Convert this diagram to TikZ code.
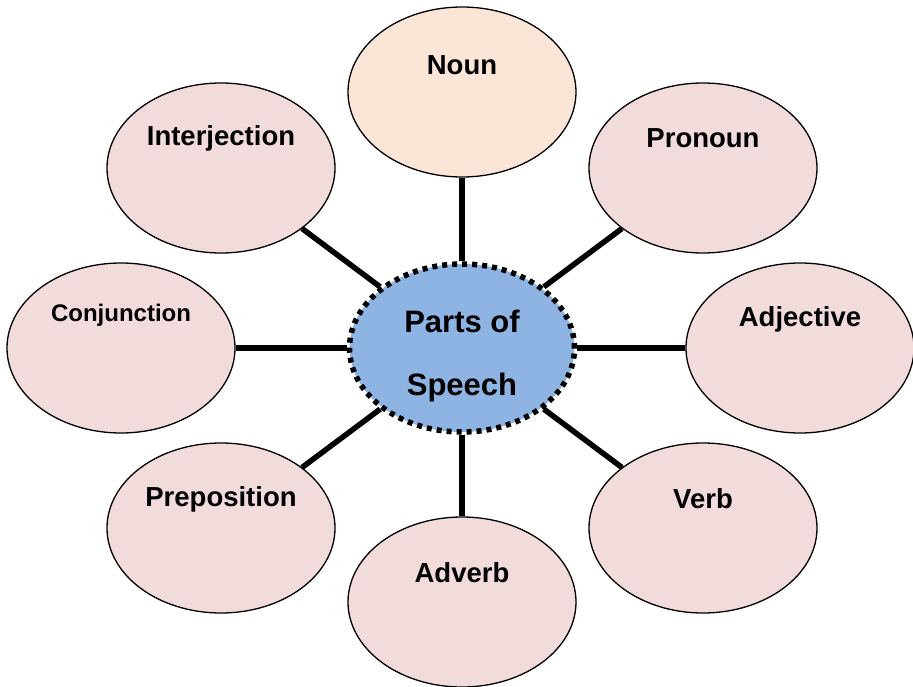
\documentclass[tikz,border=0pt]{standalone}
\usepackage{fontspec}
\setmainfont{Liberation Sans}
\usetikzlibrary{shapes.geometric}
\definecolor{nounfill}{RGB}{251,229,214}
\definecolor{partfill}{RGB}{242,220,219}
\definecolor{hubfill}{RGB}{141,180,226}
\tikzset{
  part/.style={ellipse, draw=black, line width=1.3pt, fill=partfill,
    minimum width=228pt, minimum height=170pt, inner sep=0pt},
  lbl/.style={font=\fontsize{27.5}{30}\selectfont\bfseries, text=black},
  smalllbl/.style={font=\fontsize{24}{27}\selectfont\bfseries, text=black},
  hub/.style={ellipse, draw=black, line width=5.5pt, dash pattern=on 5pt off 5pt,
    fill=hubfill, minimum width=225pt, minimum height=168pt, inner sep=0pt},
  link/.style={line width=5.5pt, black},
}
\begin{document}
\begin{tikzpicture}[x=1pt,y=-1pt]
\useasboundingbox (0,0) rectangle (913,687);
\node[part, fill=nounfill, label={[lbl, yshift=27pt]center:Noun}] (noun) at (462,92) {};
\node[part, label={[lbl, yshift=30pt]center:Pronoun}] (pronoun) at (703,168) {};
\node[part, label={[lbl, yshift=29pt]center:Adjective}] (adjective) at (800,348) {};
\node[part, label={[lbl, yshift=29pt]center:Verb}] (verb) at (703,528) {};
\node[part, label={[lbl, yshift=29pt]center:Adverb}] (adverb) at (462,602) {};
\node[part, label={[lbl, yshift=29pt]center:Preposition}] (preposition) at (221,528) {};
\node[part, label={[smalllbl, yshift=33pt]center:Conjunction}] (conjunction) at (121,348) {};
\node[part, label={[lbl, yshift=30pt]center:Interjection}] (interjection) at (221,168) {};
\node[hub, label={[font=\fontsize{31}{63}\selectfont\bfseries, align=center, yshift=-8pt]center:Parts of\\Speech}] (hub) at (462,348) {};
\foreach \t in {noun,pronoun,adjective,verb,adverb,preposition,conjunction,interjection}
  \draw[link] (hub) -- (\t);
\end{tikzpicture}
\end{document}
